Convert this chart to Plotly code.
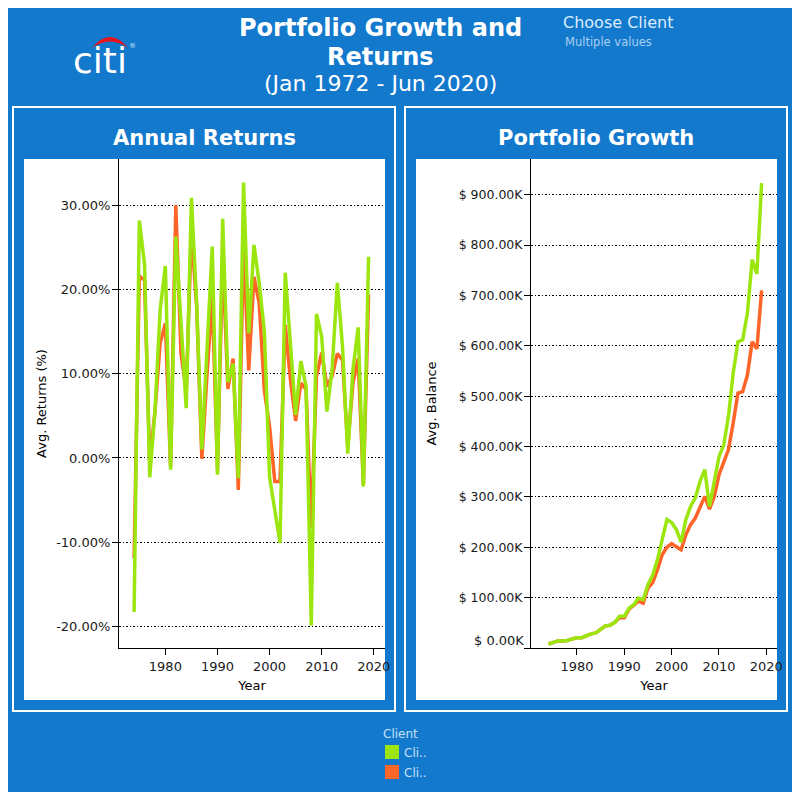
import plotly.graph_objects as go
from plotly.subplots import make_subplots

years = list(range(1974, 2020))

returns_a = [-18.3, 28.2, 23.0, -2.3, 5.5, 17.6, 22.8, -1.4, 26.3, 16.5, 5.9, 30.9, 18.4, 1.0, 12.5, 25.1, -2.0, 28.4, 9.0, 11.2, -2.4, 32.7, 14.8, 25.3, 20.8, 15.0, -2.3, -6.2, -10.1, 22.0, 13.2, 5.1, 11.5, 8.5, -19.9, 17.1, 14.4, 5.5, 10.5, 20.8, 13.2, 0.5, 10.5, 15.5, -3.4, 23.9]
returns_b = [-11.9, 21.6, 21.1, -0.5, 5.5, 13.6, 16.0, -1.0, 30.0, 12.4, 8.0, 27.0, 18.0, -0.1, 10.0, 19.2, -1.5, 24.0, 8.2, 11.8, -3.8, 25.5, 10.4, 21.5, 18.4, 8.0, 3.7, -2.8, -2.8, 15.8, 9.3, 4.4, 8.9, 8.1, -8.3, 9.7, 12.5, 8.5, 9.7, 12.4, 11.6, 1.3, 8.9, 11.8, -3.2, 19.4]

balance_a = [8, 11, 14, 14, 15, 18, 20.5, 20.5, 25, 28, 30, 38, 44, 45, 51, 63, 63, 79, 86, 99, 96, 126, 145, 175, 215, 255, 249, 235, 210, 255, 281, 298, 331, 354, 281, 327, 380, 403, 460, 546, 608, 612, 665, 771, 743, 923]
balance_b = [8, 11, 14, 14, 15, 18, 20.5, 20.5, 25, 28, 30, 38, 44, 45, 51, 60, 60, 77, 84, 93, 89, 119, 130, 155, 185, 200, 207, 201, 195, 225, 245, 258, 281, 301, 276, 301, 344, 370, 394, 447, 506, 509, 542, 608, 594, 710]

return_ticks = [-20, -10, 0, 10, 20, 30]
return_labels = ["-20.00%", "-10.00%", "0.00%", "10.00%", "20.00%", "30.00%"]
balance_ticks = [0, 100, 200, 300, 400, 500, 600, 700, 800, 900]
balance_labels = ["", "$ 100.00K", "$ 200.00K", "$ 300.00K", "$ 400.00K", "$ 500.00K", "$ 600.00K", "$ 700.00K", "$ 800.00K", "$ 900.00K"]
year_ticks = [1980, 1990, 2000, 2010, 2020]

BLUE = "#1379cd"
GREEN = "#9be60f"
ORANGE = "#ff6428"
FONT = "DejaVu Sans"


# page pixels -> paper fractions (page has 8px body margin)
def px(x):
    return (x - 8) / 784


def py(y):
    return 1 - (y - 8) / 784


fig = make_subplots(rows=1, cols=2)

for col, a, b in [(1, returns_a, returns_b), (2, balance_a, balance_b)]:
    fig.add_trace(go.Scatter(x=years, y=b, mode="lines", name="Cli..", showlegend=False,
                             line=dict(color=ORANGE, width=3.5)), row=1, col=col)
    fig.add_trace(go.Scatter(x=years, y=a, mode="lines", name="Cli..", showlegend=False,
                             line=dict(color=GREEN, width=3.5)), row=1, col=col)

axis_common = dict(showline=True, linecolor="black", linewidth=1, ticks="outside", ticklen=6,
                   tickcolor="black", zeroline=False, tickfont=dict(family=FONT, size=13, color="#1a1a1a"),
                   title_font=dict(family=FONT, size=13, color="black"))

fig.update_xaxes(axis_common, showgrid=False, tickvals=year_ticks, title_text="Year", title_standoff=8)
fig.update_yaxes(axis_common, showgrid=True, gridcolor="black", griddash="1.5px,2px", gridwidth=1)

fig.update_xaxes(domain=[px(119), px(385)], range=[1971.1, 2022.15], row=1, col=1)
fig.update_xaxes(domain=[px(531), px(777)], range=[1970.3, 2022.25], row=1, col=2)
fig.update_yaxes(domain=[py(648), py(159)], range=[-22.57, 35.5], tickvals=return_ticks, ticktext=return_labels,
                 ticklabelstandoff=-1, title_text="Avg. Returns (%)", title_standoff=6, row=1, col=1)
fig.update_yaxes(domain=[py(648), py(159)], range=[0, 971], tickvals=balance_ticks, ticktext=balance_labels,
                 tickfont_size=12.5, ticklabelstandoff=-1, title_text="Avg. Balance", title_standoff=19, row=1, col=2)


def rect(x0, y0, x1, y1, fill=None, line=None):
    return dict(type="rect", xref="paper", yref="paper", layer="below",
                x0=px(x0), x1=px(x1), y0=py(y0), y1=py(y1),
                fillcolor=fill or "rgba(0,0,0,0)",
                line=dict(color=line or "rgba(0,0,0,0)", width=2 if line else 0))


shapes = [
    rect(13, 107, 395, 711, line="white"),
    rect(405, 107, 787, 711, line="white"),
    rect(24, 159, 385, 700, fill="white"),
    rect(416, 159, 777, 700, fill="white"),
    rect(385, 745, 399, 759, fill=GREEN),
    rect(385, 765, 399, 779, fill=ORANGE),
    # red arc of the logo
    dict(type="path", xref="paper", yref="paper", fillcolor="#e8141c", line=dict(width=0),
         path=f"M{px(92)},{py(48)} Q{px(110)},{py(26)} {px(128)},{py(48)} "
              f"Q{px(110)},{py(35)} {px(92)},{py(48)} Z"),
]


def label(text, x, y, size, color="white", bold=False, anchor="center"):
    if bold:
        text = f"<b>{text}</b>"
    return dict(text=text, xref="paper", yref="paper", x=px(x), y=py(y), xanchor=anchor, yanchor="middle",
                showarrow=False, font=dict(family=FONT, size=size, color=color))


annotations = [
    label("Portfolio Growth and", 380, 28, 24, bold=True),
    label("Returns", 380, 57, 24, bold=True),
    label("(Jan 1972 - Jun 2020)", 380, 83, 22),
    label("Annual Returns", 204, 138, 21, bold=True),
    label("Portfolio Growth", 596, 138, 21, bold=True),
    label("Choose Client", 561, 23, 16, color="#dcecfa", anchor="left"),
    label("Multiple values", 563, 42, 11.5, color="#a8d0f2", anchor="left"),
    label("citi", 100, 60, 36),
    label("®", 132, 46, 7, color="#cfe4f7"),
    label("$ 0.00K", 526, 640, 13, color="#1a1a1a", anchor="right"),
    label("Client", 381, 734, 12, color="#c5e0f7", anchor="left"),
    label("Cli..", 402, 753, 12, color="#c5e0f7", anchor="left"),
    label("Cli..", 402, 773, 12, color="#c5e0f7", anchor="left"),
]

fig.update_layout(
    width=784,
    height=784,
    margin=dict(l=0, r=0, t=0, b=0, autoexpand=False),
    paper_bgcolor=BLUE,
    plot_bgcolor="white",
    showlegend=False,
    shapes=shapes,
    annotations=annotations,
)

fig.write_html("out.html")
